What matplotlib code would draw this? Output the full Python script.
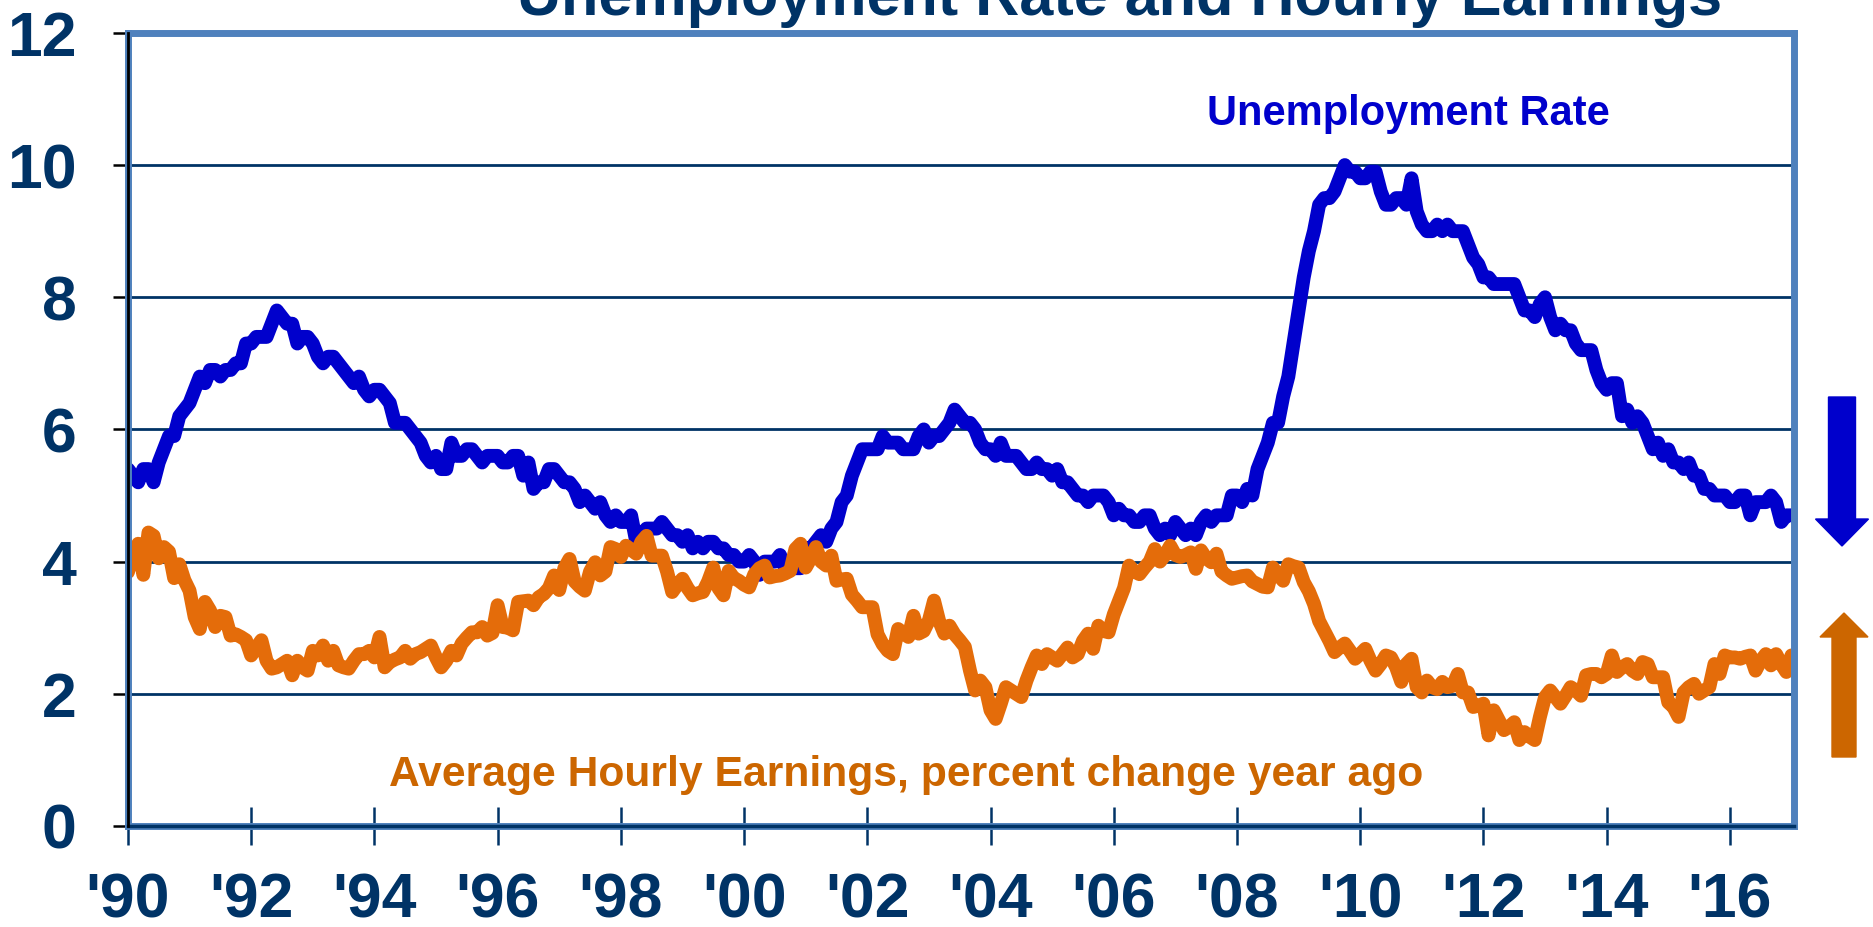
import numpy as np
import matplotlib
matplotlib.use("Agg")
import matplotlib.pyplot as plt
from matplotlib.patches import FancyArrow
from matplotlib.transforms import IdentityTransform
from matplotlib.font_manager import FontProperties

# monthly data, Jan 1990 .. Jan 2017
unemployment_rate = [
    5.4, 5.3, 5.2, 5.4, 5.4, 5.2, 5.5, 5.7, 5.9, 5.9, 6.2, 6.3,  # 1990
    6.4, 6.6, 6.8, 6.7, 6.9, 6.9, 6.8, 6.9, 6.9, 7.0, 7.0, 7.3,  # 1991
    7.3, 7.4, 7.4, 7.4, 7.6, 7.8, 7.7, 7.6, 7.6, 7.3, 7.4, 7.4,  # 1992
    7.3, 7.1, 7.0, 7.1, 7.1, 7.0, 6.9, 6.8, 6.7, 6.8, 6.6, 6.5,  # 1993
    6.6, 6.6, 6.5, 6.4, 6.1, 6.1, 6.1, 6.0, 5.9, 5.8, 5.6, 5.5,  # 1994
    5.6, 5.4, 5.4, 5.8, 5.6, 5.6, 5.7, 5.7, 5.6, 5.5, 5.6, 5.6,  # 1995
    5.6, 5.5, 5.5, 5.6, 5.6, 5.3, 5.5, 5.1, 5.2, 5.2, 5.4, 5.4,  # 1996
    5.3, 5.2, 5.2, 5.1, 4.9, 5.0, 4.9, 4.8, 4.9, 4.7, 4.6, 4.7,  # 1997
    4.6, 4.6, 4.7, 4.3, 4.4, 4.5, 4.5, 4.5, 4.6, 4.5, 4.4, 4.4,  # 1998
    4.3, 4.4, 4.2, 4.3, 4.2, 4.3, 4.3, 4.2, 4.2, 4.1, 4.1, 4.0,  # 1999
    4.0, 4.1, 4.0, 3.8, 4.0, 4.0, 4.0, 4.1, 3.9, 3.9, 3.9, 3.9,  # 2000
    4.2, 4.2, 4.3, 4.4, 4.3, 4.5, 4.6, 4.9, 5.0, 5.3, 5.5, 5.7,  # 2001
    5.7, 5.7, 5.7, 5.9, 5.8, 5.8, 5.8, 5.7, 5.7, 5.7, 5.9, 6.0,  # 2002
    5.8, 5.9, 5.9, 6.0, 6.1, 6.3, 6.2, 6.1, 6.1, 6.0, 5.8, 5.7,  # 2003
    5.7, 5.6, 5.8, 5.6, 5.6, 5.6, 5.5, 5.4, 5.4, 5.5, 5.4, 5.4,  # 2004
    5.3, 5.4, 5.2, 5.2, 5.1, 5.0, 5.0, 4.9, 5.0, 5.0, 5.0, 4.9,  # 2005
    4.7, 4.8, 4.7, 4.7, 4.6, 4.6, 4.7, 4.7, 4.5, 4.4, 4.5, 4.4,  # 2006
    4.6, 4.5, 4.4, 4.5, 4.4, 4.6, 4.7, 4.6, 4.7, 4.7, 4.7, 5.0,  # 2007
    5.0, 4.9, 5.1, 5.0, 5.4, 5.6, 5.8, 6.1, 6.1, 6.5, 6.8, 7.3,  # 2008
    7.8, 8.3, 8.7, 9.0, 9.4, 9.5, 9.5, 9.6, 9.8, 10.0, 9.9, 9.9,  # 2009
    9.8, 9.8, 9.9, 9.9, 9.6, 9.4, 9.4, 9.5, 9.5, 9.4, 9.8, 9.3,  # 2010
    9.1, 9.0, 9.0, 9.1, 9.0, 9.1, 9.0, 9.0, 9.0, 8.8, 8.6, 8.5,  # 2011
    8.3, 8.3, 8.2, 8.2, 8.2, 8.2, 8.2, 8.0, 7.8, 7.8, 7.7, 7.9,  # 2012
    8.0, 7.7, 7.5, 7.6, 7.5, 7.5, 7.3, 7.2, 7.2, 7.2, 6.9, 6.7,  # 2013
    6.6, 6.7, 6.7, 6.2, 6.3, 6.1, 6.2, 6.1, 5.9, 5.7, 5.8, 5.6,  # 2014
    5.7, 5.5, 5.5, 5.4, 5.5, 5.3, 5.3, 5.1, 5.1, 5.0, 5.0, 5.0,  # 2015
    4.9, 4.9, 5.0, 5.0, 4.7, 4.9, 4.9, 4.9, 5.0, 4.9, 4.6, 4.7,  # 2016
    4.7,                                                         # 2017
]

hourly_earnings_yoy = [
    3.84, 4.1, 4.27, 3.8, 4.44, 4.39, 4.05, 4.22, 4.15, 3.75, 3.96, 3.72,  # 1990
    3.56, 3.16, 2.98, 3.39, 3.26, 3.01, 3.18, 3.16, 2.88, 2.9, 2.86, 2.81,  # 1991
    2.58, 2.7, 2.81, 2.5, 2.38, 2.4, 2.45, 2.5, 2.28, 2.5, 2.4, 2.35,  # 1992
    2.65, 2.58, 2.73, 2.5, 2.65, 2.43, 2.4, 2.38, 2.5, 2.6, 2.6, 2.65,  # 1993
    2.55, 2.86, 2.4, 2.48, 2.52, 2.55, 2.65, 2.53, 2.6, 2.63, 2.68, 2.73,  # 1994
    2.55, 2.4, 2.5, 2.65, 2.58, 2.76, 2.85, 2.93, 2.93, 3.01, 2.88, 2.92,  # 1995
    3.34, 3.01, 3.0, 2.96, 3.39, 3.4, 3.41, 3.34, 3.46, 3.51, 3.6, 3.79,  # 1996
    3.57, 3.9, 4.04, 3.7, 3.62, 3.56, 3.85, 3.99, 3.79, 3.85, 4.22, 4.19,  # 1997
    4.07, 4.24, 4.18, 4.12, 4.3, 4.39, 4.09, 4.09, 4.09, 3.85, 3.54, 3.65,  # 1998
    3.74, 3.6, 3.49, 3.52, 3.54, 3.7, 3.91, 3.6, 3.49, 3.86, 3.75, 3.71,  # 1999
    3.65, 3.61, 3.81, 3.9, 3.94, 3.76, 3.78, 3.79, 3.82, 3.86, 4.19, 4.27,  # 2000
    3.91, 4.05, 4.22, 4.0, 3.94, 4.09, 3.71, 3.73, 3.74, 3.5, 3.41, 3.31,  # 2001
    3.31, 3.31, 2.9, 2.75, 2.65, 2.6, 2.98, 2.92, 2.86, 3.18, 2.91, 2.95,  # 2002
    3.11, 3.41, 3.1, 2.91, 3.03, 2.9, 2.81, 2.71, 2.35, 2.05, 2.2, 2.1,  # 2003
    1.75, 1.62, 1.85, 2.1, 2.05, 2.0, 1.95, 2.2, 2.4, 2.58, 2.45, 2.6,  # 2004
    2.55, 2.5, 2.6, 2.7, 2.55, 2.6, 2.8, 2.91, 2.68, 3.03, 2.95, 2.93,  # 2005
    3.2, 3.4, 3.6, 3.94, 3.85, 3.81, 3.91, 4.0, 4.19, 4.0, 4.1, 4.24,  # 2006
    4.1, 4.07, 4.1, 4.14, 3.89, 4.17, 4.05, 3.99, 4.12, 3.85, 3.79, 3.74,  # 2007
    3.76, 3.78, 3.79, 3.7, 3.66, 3.62, 3.61, 3.91, 3.8, 3.71, 3.96, 3.93,  # 2008
    3.91, 3.69, 3.55, 3.36, 3.1, 2.95, 2.8, 2.63, 2.7, 2.76, 2.65, 2.53,  # 2009
    2.6, 2.68, 2.5, 2.35, 2.45, 2.58, 2.55, 2.4, 2.18, 2.45, 2.53, 2.1,  # 2010
    2.02, 2.2, 2.1, 2.07, 2.18, 2.1, 2.12, 2.3, 2.02, 2.02, 1.8, 1.82,  # 2011
    1.85, 1.37, 1.75, 1.6, 1.45, 1.5, 1.57, 1.3, 1.42, 1.35, 1.3, 1.65,  # 2012
    1.95, 2.05, 1.95, 1.85, 1.97, 2.1, 2.05, 1.97, 2.28, 2.3, 2.3, 2.25,  # 2013
    2.3, 2.58, 2.33, 2.4, 2.45, 2.35, 2.3, 2.48, 2.45, 2.25, 2.25, 2.25,  # 2014
    1.87, 1.8, 1.65, 2.02, 2.1, 2.15, 2.0, 2.05, 2.1, 2.45, 2.3, 2.58,  # 2015
    2.55, 2.55, 2.53, 2.56, 2.58, 2.35, 2.5, 2.6, 2.43, 2.6, 2.45, 2.33,  # 2016
    2.58,                                                                  # 2017
]

year_ticks = list(range(1990, 2017, 2))
year_labels = ["'%02d" % (y % 100) for y in year_ticks]
rate_ticks = [0, 2, 4, 6, 8, 10, 12]

navy = "#003366"
frame_blue = "#4F81BD"
line_blue = "#0000CC"
line_orange = "#E46C0A"
text_orange = "#CC6600"

dates = 1990 + np.arange(len(unemployment_rate)) / 12.0

fig = plt.figure(figsize=(18.73, 9.27), dpi=100)
ax = fig.add_axes([0.0683, 0.109, 0.8895, 0.8555])

ax.plot(dates, unemployment_rate, color=line_blue, lw=10,
        solid_joinstyle="round", solid_capstyle="round", zorder=2)
ax.plot(dates, hourly_earnings_yoy, color=line_orange, lw=10,
        solid_joinstyle="round", solid_capstyle="round", zorder=2.1)

ax.set_xlim(1990, 2017.04)
ax.set_ylim(0, 12)
ax.set_xticks(year_ticks)
ax.set_xticklabels(year_labels)
ax.set_yticks(rate_ticks)
ax.set_yticklabels([str(t) for t in rate_ticks])

ax.grid(axis="y", color=navy, lw=2)
ax.grid(axis="x", visible=False)
for sp in ax.spines.values():
    sp.set_color(frame_blue)
    sp.set_linewidth(5)
ax.axhline(0, color=navy, lw=2.5, zorder=3, clip_on=False)
ax.axvline(1990, color="black", lw=2, zorder=3, clip_on=False)

ax.tick_params(axis="y", direction="out", length=11, width=1.8, color="black",
               pad=26, labelcolor=navy)
ax.tick_params(axis="x", direction="inout", length=27, width=1.8, color=navy,
               pad=19, labelcolor=navy)
tick_font = FontProperties(family="Liberation Sans", weight="bold", size=45)
for lbl in ax.get_xticklabels() + ax.get_yticklabels():
    lbl.set_fontproperties(tick_font)

ax.text(2010.78, 10.78, "Unemployment Rate", color=line_blue, fontsize=30,
        fontweight="bold", family="Liberation Sans", ha="center", va="center")
ax.text(2002.63, 0.77, "Average Hourly Earnings, percent change year ago",
        color=text_orange, fontsize=30.7, fontweight="bold",
        family="Liberation Sans", ha="center", va="center")

# title sits partly above the top edge, as in the source
fig.text(0.598, 0.984, "Unemployment Rate and Hourly Earnings", color=navy,
         fontsize=44, fontweight="bold", family="Liberation Sans",
         ha="center", va="baseline")

# direction arrows on the right
fig.add_artist(FancyArrow(1842, 530, 0, -149, width=27, head_width=53,
                          head_length=27, length_includes_head=True,
                          color=line_blue, transform=IdentityTransform()))
fig.add_artist(FancyArrow(1844, 170, 0, 144, width=24, head_width=48,
                          head_length=24, length_includes_head=True,
                          color=text_orange, transform=IdentityTransform()))

fig.savefig("out.png", dpi=100)
